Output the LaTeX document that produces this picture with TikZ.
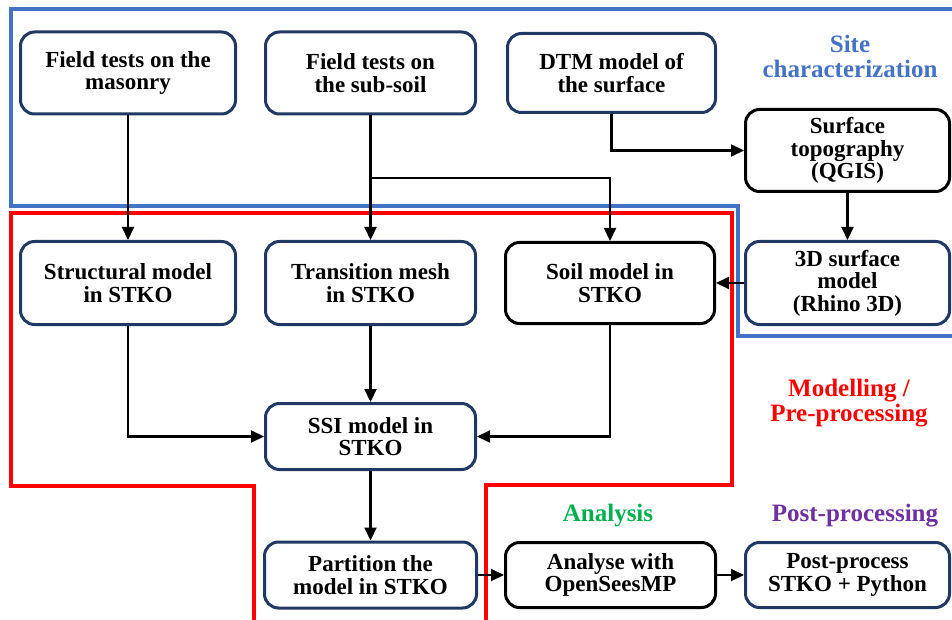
\documentclass[tikz,border=0pt]{standalone}
\usepackage{fontspec}
\setmainfont{Liberation Serif}
\usetikzlibrary{arrows.meta}
\definecolor{navy}{RGB}{31,56,100}
\definecolor{sitecol}{RGB}{68,114,196}
\definecolor{anacol}{RGB}{0,176,80}
\definecolor{postcol}{RGB}{112,48,160}

\begin{document}
\begin{tikzpicture}[x=1pt,y=-1pt,
    box/.style={draw=navy,line width=3pt,rounded corners=14pt,align=center,
      font=\fontsize{23}{22.5}\selectfont\bfseries,inner sep=1pt},
    blackbox/.style={box,draw=black},
    arr/.style={line width=2.1pt,-{Triangle[length=13pt,width=12pt]}},
    tag/.style={align=center,font=\fontsize{25}{25}\selectfont\bfseries}]
\useasboundingbox(0,0)rectangle(952,620);
% regions
\draw[sitecol,line width=3.2pt](956,9)--(11,9)--(11,206)--(738,206)--(738,336)--(956,336);
\draw[red,line width=3.2pt](254,625)--(254,486)--(11,486)--(11,213)--(732,213)--(732,485)--(486,485)--(486,625);
\node[tag,text=sitecol](site)at(850,56){Site\\characterization};
\node[tag,text=red](mod)at(849,403){Modelling /\\Pre-processing};
\node[tag,text=anacol](ana)at(608,516){Analysis};
\node[tag,text=postcol](pp)at(855,516){Post-processing};
% boxes
\node[box,minimum width=215pt,minimum height=82pt](masonry)at(128,73){Field tests on the\\masonry};
\node[box,minimum width=210pt,minimum height=82pt](subsoil)at(370.5,73){Field tests on\\the sub-soil};
\node[box,minimum width=208pt,minimum height=79pt](dtm)at(611.5,73){DTM model of\\the surface};
\node[blackbox,minimum width=204pt,minimum height=82pt](topo)at(847.5,150.5){Surface\\topography\\(QGIS)};
\node[box,minimum width=215pt,minimum height=83pt](struct)at(128,283){Structural model\\in STKO};
\node[box,minimum width=210pt,minimum height=83pt](trans)at(370.5,283){Transition mesh\\in STKO};
\node[blackbox,minimum width=209pt,minimum height=81pt](soil)at(610,283){Soil model in\\STKO};
\node[box,minimum width=204pt,minimum height=83pt](surf)at(847.5,283){3D surface\\model\\(Rhino 3D)};
\node[box,minimum width=210pt,minimum height=66pt](ssi)at(370.5,436.5){SSI model in\\STKO};
\node[box,minimum width=212pt,minimum height=66pt](part)at(370.5,575){Partition the\\model in STKO};
\node[blackbox,minimum width=210pt,minimum height=65pt](analyse)at(610.5,575){Analyse with\\OpenSeesMP};
\node[box,minimum width=204pt,minimum height=65pt](post)at(847.5,575){Post-process\\STKO + Python};
% connections
\coordinate(split)at(370.5,178);
\draw[arr](masonry)--(struct);
\draw[arr](subsoil)--(trans);
\draw[arr](split)-|(soil);
\draw[arr](dtm)|-(topo);
\draw[arr](topo)--(surf);
\draw[arr](surf)--(soil);
\draw[arr](struct)|-(ssi);
\draw[arr](trans)--(ssi);
\draw[arr](soil)|-(ssi);
\draw[arr](ssi)--(part);
\draw[arr](part)--(analyse);
\draw[arr](analyse)--(post);
\end{tikzpicture}
\end{document}
